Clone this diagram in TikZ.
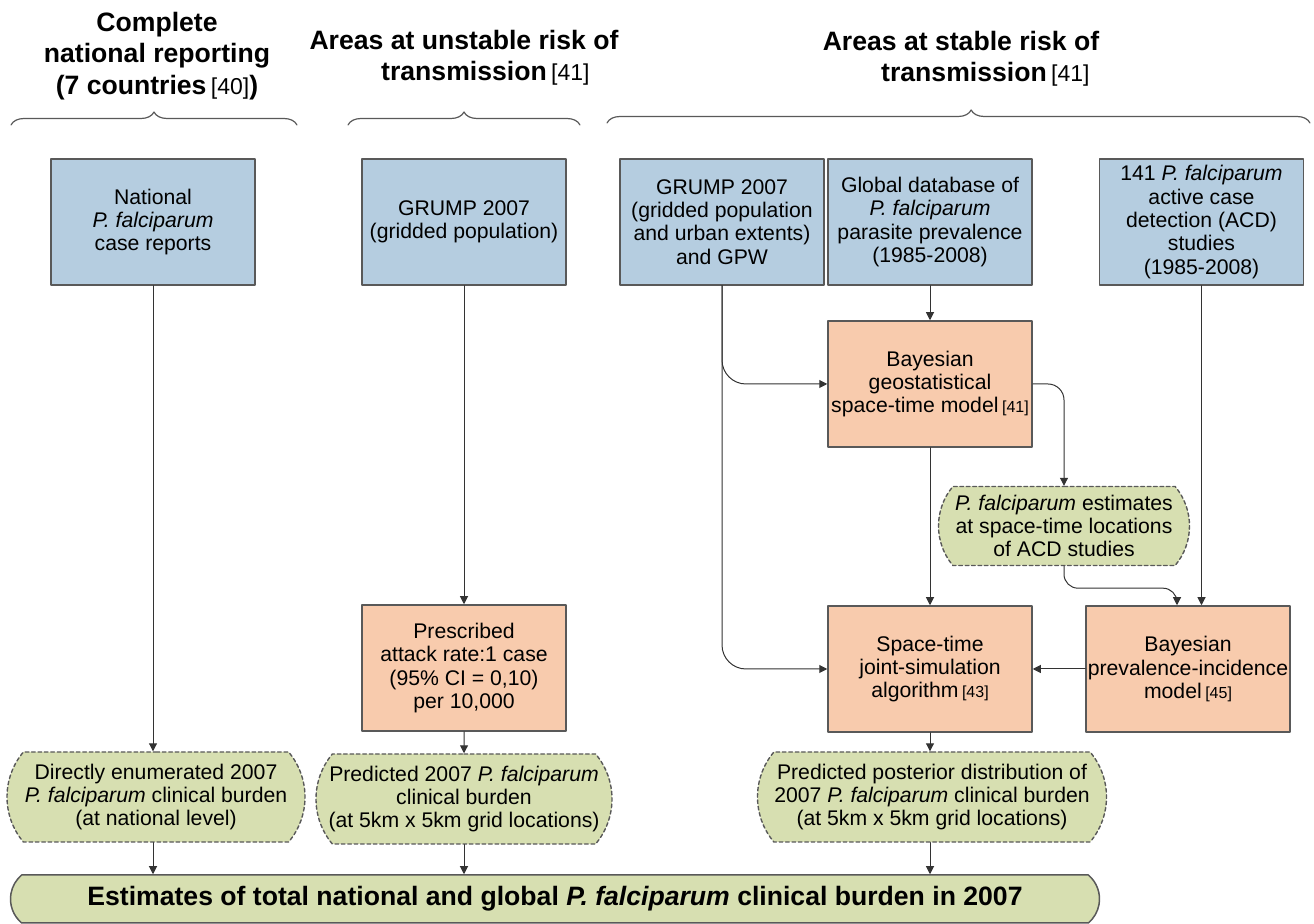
\documentclass[tikz,border=0pt]{standalone}
\usepackage{fontspec}
\setmainfont{Liberation Sans}
\usetikzlibrary{arrows.meta,shapes.misc,decorations.pathreplacing}
\definecolor{b5cde0}{rgb}{0.7098,0.8039,0.8784}
\definecolor{f8cbad}{rgb}{0.9725,0.7961,0.6784}
\definecolor{d7dfb1}{rgb}{0.8431,0.8745,0.6941}
\definecolor{qqqqqq}{rgb}{0.349,0.349,0.349}
\definecolor{sqsqsq}{rgb}{0.2,0.2,0.2}
\newcommand{\pf}{\textit{P. falciparum}}
\newcommand{\citn}[1]{\,{\fontsize{8}{8}\selectfont[#1]}}
\newcommand{\citt}[1]{\,{\mdseries\fontsize{11.5}{11.5}\selectfont[#1]}}
\tikzset{
  boxtext/.style={align=center,font=\fontsize{10.6}{11.7}\selectfont,inner sep=0pt},
  inbox/.style={boxtext,draw=qqqqqq,line width=0.75pt,fill=b5cde0,minimum width=102pt,minimum height=63pt},
  modbox/.style={boxtext,draw=qqqqqq,line width=0.75pt,fill=f8cbad,minimum width=102pt,minimum height=63pt},
  outbox/.style={boxtext,rounded rectangle,rounded rectangle arc length=80,draw=qqqqqq,line width=0.7pt,dash pattern=on 1.8pt off 1.4pt,fill=d7dfb1,minimum height=45pt},
  head/.style={align=center,font=\fontsize{13.3}{15.7}\selectfont\bfseries},
  brc/.style={decorate,decoration={brace,amplitude=6.5pt},draw=qqqqqq,line width=0.6pt},
  flow/.style={->,draw=sqsqsq,line width=0.5pt}
}
\begin{document}
\begin{tikzpicture}[line cap=round,line join=round,>={Triangle[length=4pt,width=4pt]},x=0.5pt,y=-0.5pt]
%\draw [color=gray!30, xstep=50,ystep=50] (0,0) grid (1314,924);
\useasboundingbox (0,0) rectangle (1314,924);
\node[head] (hnat) at (157,56) {Complete\\national reporting\\(7 countries\citt{40})};
\node[head] (hunst) at (464,58) {Areas at unstable risk of\\transmission\rlap{\citt{41}}};
\node[head] (hstab) at (961,59) {Areas at stable risk of\\\hspace*{3pt}transmission\rlap{\citt{41}}};
\draw[brc] (11,125) -- (297,125);
\draw[brc] (348,125) -- (580,125);
\draw[brc,decoration={aspect=0.518}] (607,123) -- (1310,123);
\node[inbox] (nat) at (153,222) {National\\\pf\\case reports};
\node[inbox] (grpop) at (464,222) {GRUMP 2007\\(gridded population)};
\node[inbox] (grurb) at (722,222) {GRUMP 2007\\(gridded population\\and urban extents)\\and GPW};
\node[inbox] (pfpr) at (930,222) {Global database of\\\pf\\parasite prevalence\\(1985-2008)};
\node[inbox] (acd) at (1201.5,222) {141 \pf\\active case\\detection (ACD)\\studies\\(1985-2008)};
\node[modbox] (geo) at (930,384) {Bayesian\\geostatistical\\space-time model\citn{41}};
\node[modbox] (rate) at (464,668) {Prescribed\\attack rate:1 case\\(95\% CI = 0,10)\\per 10,000};
\node[modbox] (sim) at (930,669) {Space-time\\joint-simulation\\algorithm\citn{43}};
\node[modbox] (pi) at (1188,669) {Bayesian\\prevalence-incidence\\model\citn{45}};
\node[outbox,minimum width=149pt] (enum) at (156,797) {Directly enumerated 2007\\\pf{} clinical burden\\(at national level)};
\node[outbox,minimum width=148pt] (pred) at (464,799) {Predicted 2007 \pf\\clinical burden\\(at 5km x 5km grid locations)};
\node[outbox,minimum width=125.5pt,minimum height=39.5pt] (pfest) at (1064,526) {\pf{} estimates\\at space-time locations\\of ACD studies};
\node[outbox,minimum width=174.5pt] (post) at (932,797) {Predicted posterior distribution of\\2007 \pf{} clinical burden\\(at 5km x 5km grid locations)};
\node[outbox,solid,rounded rectangle arc length=100,line width=0.75pt,minimum width=544.5pt,minimum height=24pt,font=\fontsize{13.3}{15.7}\selectfont\bfseries] (total) at (555,899) {Estimates of total national and global \textit{P. falciparum} clinical burden in 2007};
\draw[flow] (nat.south) -- (nat.south |- enum.north);
\draw[flow] (nat.south |- enum.south) -- (nat.south |- total.north);
\draw[flow] (grpop) -- (rate);
\draw[flow] (rate) -- (pred);
\draw[flow] (pred.south) -- (pred.south |- total.north);
\draw[flow] (pfpr) -- (geo);
\draw[flow,rounded corners=12pt] (grurb.south) |- (geo.west);
\draw[flow,rounded corners=12pt] (grurb.south) |- (sim.west);
\draw[flow,rounded corners=8pt] (geo.east) -| (pfest.north);
\draw[flow] (geo) -- (sim);
\draw[flow,rounded corners=7pt] (pfest.south) -- ++(0,22) -| ([xshift=-5.5pt]pi.north);
\draw[flow] (acd.south) -- (acd.south |- pi.north);
\draw[flow] (pi) -- (sim);
\draw[flow] (sim.south) -- (sim.south |- post.north);
\draw[flow] (sim.south |- post.south) -- (sim.south |- total.north);
\end{tikzpicture}
\end{document}
